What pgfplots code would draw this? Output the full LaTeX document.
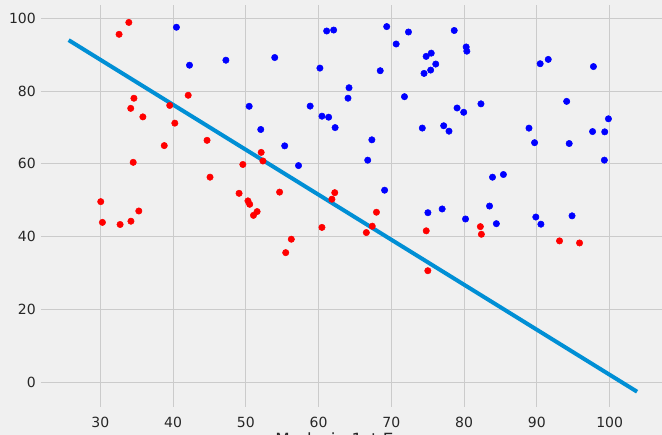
\documentclass[border=0pt]{standalone}
\usepackage{fontspec}
\setmainfont{DejaVu Sans}
\usepackage{pgfplots}
\usepackage{pgfplotstable}
\pgfplotsset{compat=1.18}
\definecolor{bg}{HTML}{F0F0F0}
\definecolor{gridc}{HTML}{CBCBCB}
\definecolor{linec}{HTML}{008FD5}
\pgfplotstableread{
x y
34.62 78.02
30.29 43.89
35.85 72.90
45.08 56.32
95.86 38.23
75.01 30.60
39.54 76.04
67.95 46.68
67.37 42.84
50.53 48.86
34.21 44.21
93.11 38.80
61.83 50.26
38.79 65.00
52.11 63.13
40.24 71.17
54.64 52.21
33.92 98.87
74.79 41.57
34.18 75.24
51.55 46.86
82.37 40.62
51.05 45.82
62.22 52.06
34.52 60.40
50.29 49.80
49.59 59.81
32.58 95.60
35.29 47.02
56.25 39.26
30.06 49.59
44.67 66.45
66.56 41.09
49.07 51.88
32.72 43.31
60.46 42.51
82.23 42.72
42.08 78.84
52.35 60.77
55.48 35.57
}\neg
\pgfplotstableread{
x y
60.18 86.31
79.03 75.34
61.11 96.51
75.02 46.55
76.10 87.42
84.43 43.53
82.31 76.48
69.36 97.72
53.97 89.21
69.07 52.74
70.66 92.93
76.98 47.58
89.68 65.80
77.92 68.97
62.27 69.95
80.19 44.82
61.38 72.81
85.40 57.05
52.05 69.43
64.18 80.91
83.90 56.31
94.44 65.57
77.19 70.46
97.77 86.73
62.07 96.77
91.56 88.70
79.94 74.16
99.27 61.00
90.55 43.39
97.65 68.86
74.25 69.82
71.80 78.45
75.40 85.76
40.46 97.54
80.28 92.12
66.75 60.99
64.04 78.03
72.35 96.23
60.46 73.09
58.84 75.86
99.83 72.37
47.26 88.48
50.46 75.81
88.91 69.80
94.83 45.69
67.32 66.59
57.24 59.51
80.37 90.96
68.47 85.59
75.48 90.42
78.64 96.65
94.09 77.16
90.45 87.51
74.49 84.85
89.85 45.36
83.49 48.38
42.26 87.10
99.32 68.78
55.34 64.93
74.78 89.53
}\pos
\begin{document}
\begin{tikzpicture}
\fill[bg] (0pt,0pt) rectangle (662pt,435pt);
\begin{axis}[
  at={(41pt,28pt)}, anchor=south west,
  scale only axis, width=623.6pt, height=402pt,
  xmin=21.85, xmax=107.55, ymin=-6.87, ymax=103.66,
  axis line style={draw=none},
  axis background/.style={fill=bg},
  grid=major, major grid style={gridc, line width=1pt},
  major tick length=0pt,
  xtick={30,40,50,60,70,80,90,100},
  ytick={0,20,40,60,80,100},
  /pgf/number format/assume math mode=true,
  tick label style={font=\fontsize{14}{16}\selectfont, text=black!85},
  xticklabel style={anchor=north, inner sep=0pt, yshift=-9.5pt},
  yticklabel style={anchor=east, inner sep=0pt, xshift=-5pt},
  xlabel={Marks in 1st Exam},
  xlabel style={at={(axis description cs:0.5,0)}, anchor=north, inner sep=0pt, yshift=-25.5pt, font=\fontsize{16.8}{19}\selectfont, text=black!85},
  clip=false,
]
\addplot[red, only marks, mark=*, mark size=3.2pt, mark options={fill=red, draw=red, line width=0.5pt}] table[x=x,y=y] {\neg};
\addplot[blue, only marks, mark=*, mark size=3.2pt, mark options={fill=blue, draw=blue, line width=0.5pt}] table[x=x,y=y] {\pos};
\addplot[linec, line width=4pt, no marks] coordinates {(25.65,94.0) (103.77,-2.67)};
\end{axis}
\pgfresetboundingbox
\useasboundingbox (0pt,0pt) rectangle (662pt,435pt);
\end{tikzpicture}
\end{document}
